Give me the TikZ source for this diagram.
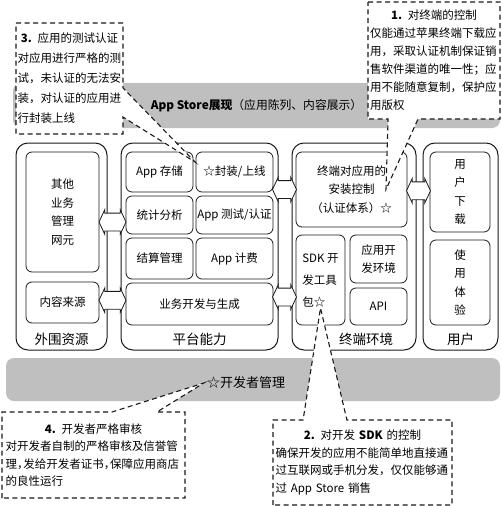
\documentclass[tikz,border=0pt]{standalone}
\usepackage{fontspec}
\setmainfont{Noto Sans CJK SC}
\usetikzlibrary{positioning,calc,shapes.arrows}
\definecolor{bandgray}{HTML}{BFBFBF}
\definecolor{ink}{HTML}{1A1A1A}
\newcommand{\halfcomma}{\makebox[0.55em][l]{，}}

\begin{document}
\begin{tikzpicture}[x=1pt,y=-1pt,
  col/.style={draw=ink,line width=1pt,rounded corners=12pt,minimum height=207pt,outer sep=0pt},
  cell/.style={draw=ink,line width=0.8pt,rounded corners=6pt,align=center,inner sep=1pt,outer sep=0pt,font=\fontsize{11.5}{18.5}\selectfont},
  band/.style={fill=bandgray,rounded corners=8pt},
  lbl/.style={font=\fontsize{13.5}{16}\selectfont},
  darrow/.style={double arrow,draw=ink,fill=white,line width=0.8pt,inner xsep=0pt,inner ysep=8.5pt,double arrow head extend=3.5pt,double arrow tip angle=130},
  notebox/.style={inner sep=0pt,outer sep=0pt},
  note/.style={draw=ink,fill=white,line width=1.1pt,dash pattern=on 5pt off 3.5pt},
  notetext/.style={align=left,inner sep=0pt}]
  \useasboundingbox (0,0) rectangle (501,506);

  % bands
  \node[band,minimum width=487pt,minimum height=45pt] (showband) at (256.5,105.5) {\fontsize{11.8}{14}\selectfont\textbf{App Store展现}（应用陈列、内容展示）};
  \node[band,minimum width=494pt,minimum height=43pt] (devband) at (253,379.5) {};
  \node[font=\fontsize{13}{15}\selectfont,inner sep=1pt] (devmgr) at (246,383) {☆开发者管理};

  % columns
  \node[col,minimum width=91pt] (ext) at (61.5,246.5) {};
  \node[col,minimum width=157pt] (platform) at (199.5,246.5) {};
  \node[col,minimum width=124pt] (terminal) at (354,246.5) {};
  \node[col,minimum width=75pt] (user) at (460.5,246.5) {};
  \node[lbl] (extlbl) at ([yshift=11pt]ext.south) {外围资源};
  \node[lbl] (platlbl) at ([yshift=11pt]platform.south) {平台能力};
  \node[lbl] (termlbl) at ([xshift=12pt,yshift=11pt]terminal.south) {终端环境};
  \node[lbl] (userlbl) at ([yshift=11pt]user.south) {用户};

  % cells
  \node[cell,minimum width=73pt,minimum height=120pt] (other) at (62.5,212) {其他\\业务\\管理\\网元};
  \node[cell,minimum width=73pt,minimum height=41pt] (source) at (62.5,302.5) {内容来源};
  \node[cell,minimum width=67pt,minimum height=40pt] (store) at (159.5,172) {App 存储};
  \node[cell,minimum width=77pt,minimum height=40pt,right=3pt of store] (pack) {☆封装/上线};
  \node[cell,minimum width=67pt,minimum height=38pt,below=4pt of store] (stats) {统计分析};
  \node[cell,minimum width=77pt,minimum height=38pt,right=3pt of stats] (test) {App 测试/认证};
  \node[cell,minimum width=67pt,minimum height=41pt,below=4pt of stats] (settle) {结算管理};
  \node[cell,minimum width=77pt,minimum height=41pt,right=3pt of settle] (billing) {App 计费};
  \node[cell,minimum width=147pt,minimum height=42pt,below right=4pt and 0pt of settle.south west] (devgen) {业务开发与生成};
  \node[cell,minimum width=111pt,minimum height=75pt] (ctrl) at (351.5,189.5) {终端对应用的\\安装控制\\（认证体系）☆};
  \node[cell,minimum width=49pt,minimum height=90pt,align=left,font=\fontsize{11.5}{22}\selectfont] (sdk) at (320.5,280) {SDK 开\\发工具\\包☆};
  \node[cell,minimum width=57pt,minimum height=48pt,anchor=north west] (devenv) at ([xshift=5pt]sdk.north east) {应用开\\发环境};
  \node[cell,minimum width=57pt,minimum height=37pt,below=5pt of devenv] (api) {API};
  \node[cell,minimum width=60pt,minimum height=80pt] (download) at (460,192) {用\\户\\下\\载};
  \node[cell,minimum width=60pt,minimum height=85pt,below=8pt of download] (usage) {使\\用\\体\\验};

  % double arrows between columns
  \node[darrow,minimum height=27pt] (arr1) at ([yshift=-8.5pt]$(other.east)!.5!(stats.west)$) {};
  \node[darrow,minimum height=27pt] (arr2) at ([yshift=3pt]$(source.east)!.5!(devgen.west)$) {};
  \node[darrow,minimum height=24pt] (arr3) at ($(pack.east |- ctrl.west)!.5!(ctrl.west)$) {};
  \node[darrow,minimum height=24pt] (arr4) at ([yshift=-5pt]$(devgen.east)!.5!(sdk.west)$) {};
  \node[darrow,minimum height=24pt] (arr5) at ($(ctrl.east)!.5!(download.west)$) {};

  % callouts
  \coordinate (tip3) at ([shift={(-1,10)}]pack.north west);
  \node[notebox,minimum width=107pt,minimum height=111pt] (note3) at (69.5,78.5) {};
  \draw[note] (note3.north west) -- (note3.north east) -- ($(note3.north east)!.585!(note3.south east)$) -- (tip3)
    -- ($(note3.north east)!.847!(note3.south east)$) -- (note3.south east) -- (note3.south west) -- cycle;
  \node[notetext,text width=104pt,font=\fontsize{11.5}{20}\selectfont] (note3txt) at (note3)
    {\makebox[\linewidth]{\textbf{3.} 应用的测试认证}\\对应用进行严格的测\\试，未认证的无法安\\装，对认证的应用进\\行封装上线};

  \coordinate (tip1) at ([xshift=34.5pt]ctrl.center);
  \node[notebox,minimum width=132pt,minimum height=117pt] (note1) at (434,60.5) {};
  \draw[note] (note1.north west) -- (note1.north east) -- (note1.south east) -- ($(note1.south west)!.379!(note1.south east)$)
    -- (tip1) -- ($(note1.south west)!.152!(note1.south east)$) -- (note1.south west) -- cycle;
  \node[notetext,text width=128pt,font=\fontsize{11.5}{18}\selectfont] (note1txt) at (note1)
    {\makebox[\linewidth]{\textbf{1.} 对终端的控制}\\仅能通过苹果终端下载应\\用，采取认证机制保证销\\售软件渠道的唯一性；应\\用不能随意复制，保护应\\用版权};

  \coordinate (tip2) at ([yshift=-28pt]sdk.center);
  \node[notebox,minimum width=179pt,minimum height=85pt] (note2) at (362.5,462.5) {};
  \draw[note] (note2.south west) -- (note2.north west) -- ($(note2.north west)!.168!(note2.north east)$) -- (tip2)
    -- ($(note2.north west)!.413!(note2.north east)$) -- (note2.north east) -- (note2.south east) -- cycle;
  \node[notetext,text width=174pt,font=\fontsize{11.5}{17.5}\selectfont] (note2txt) at (note2)
    {\makebox[\linewidth]{\textbf{2.} 对开发 \textbf{SDK} 的控制}\\确保开发的应用不能简单地直接通\\过互联网或手机分发，仅仅能够通\\过 App Store 销售};

  \coordinate (tip4) at ([xshift=-2pt]devmgr.west);
  \node[notebox,minimum width=183pt,minimum height=86pt] (note4) at (93.5,455) {};
  \draw[note] (note4.south west) -- (note4.north west) -- ($(note4.north west)!.601!(note4.north east)$) -- (tip4)
    -- ($(note4.north west)!.847!(note4.north east)$) -- (note4.north east) -- (note4.south east) -- cycle;
  \node[notetext,text width=176pt,font=\fontsize{11.5}{17.5}\selectfont] (note4txt) at (note4)
    {\makebox[\linewidth]{\textbf{4.} 开发者严格审核}\\对开发者自制的严格审核及信誉管\\理\halfcomma 发给开发者证书\halfcomma 保障应用商店\\的良性运行};
\end{tikzpicture}
\end{document}
